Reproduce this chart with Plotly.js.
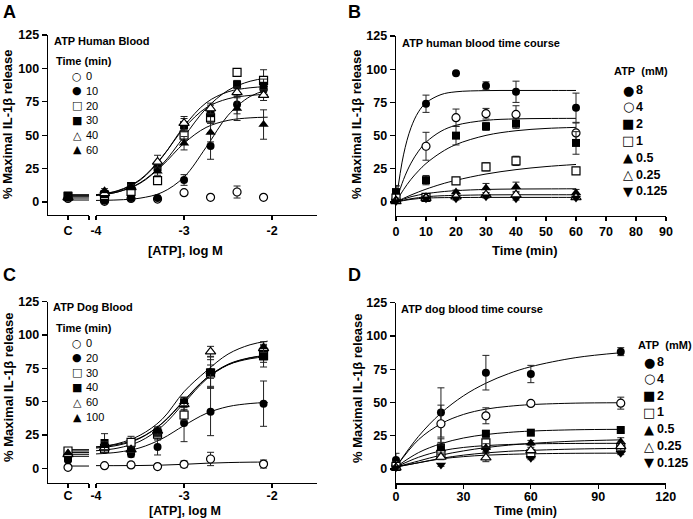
<!DOCTYPE html>
<html><head><meta charset="utf-8">
<script src="https://cdn.plot.ly/plotly-3.0.1.min.js"></script>
<style>html,body{margin:0;padding:0;background:#fff}#chart{width:693px;height:519px}</style>
</head><body><div id="chart"></div>
<script>
// ================= DATA =================
// ---- Panel A: ATP Human Blood, concentration-response ----
const logATP_A = [-3.903, -3.602, -3.301, -3.0, -2.699, -2.398, -2.097];
const seriesA = ['0', '10', '20', '30', '40', '60'];
const ctrlA = [2.7, 3.2, 4.2, 4.8, 3.5, 3.8];
const valsA = [
  [0.5, 2.7, 2.2, 7, 3.5, 7.5, 3.5],
  [1, 3, 3, 16.5, 42, 73, 84],
  [5, 8, 16, 50, 63, 97, 91],
  [6, 12, 26, 57.5, 66.5, 88, 87],
  [6.5, 11, 30, 59, 70, 82, 80],
  [8.5, 11.5, 23, 44, 52, 70, 58]
];
const errA = [
  [1, 1, 1, 1.2, 1, 4.5, 1],
  [1, 1, 1, 4, 10, 7, 5],
  [1, 1.5, 2, 4, 4, 2, 8],
  [1, 1.5, 3, 5, 6, 3, 5],
  [1, 1.5, 5, 5, 4, 4, 4],
  [1.5, 1.5, 3, 5, 7, 9, 11]
];
// fitted curves, x grid in log M
const fitXA = [-4, -3.75, -3.5, -3.25, -3, -2.75, -2.5, -2.25, -2.05];
const fitA = {
  '10': [1.2, 1.6, 2.9, 7.2, 18.7, 40.9, 64.9, 79, 83.8],
  '20': [4.8, 7.6, 14.4, 28.1, 49, 69.9, 83.6, 90.4, 92.8],
  '30': [5.4, 8.3, 16.3, 33.4, 56.7, 74.2, 82.5, 85.5, 86.4],
  '40': [5.5, 8.6, 16.8, 33.8, 55.3, 70.5, 77.3, 79.8, 80.6],
  '60': [5.2, 7.6, 14, 27.2, 44, 55.8, 61.1, 63, 63.5]
};
const ctrlLinesA = [1.5, 3, 4, 5, 5.5];

// ---- Panel B: ATP human blood time course ----
const timeB = [0, 10, 20, 30, 40, 60];
const seriesB = ['8', '4', '2', '1', '0.5', '0.25', '0.125'];
const valsB = [
  [7, 74, 97, 87.5, 83, 71],
  [2, 42, 63.5, 66.5, 66, 52],
  [7.5, 16.5, 50, 57, 59, 44.5],
  [3, 3.5, 16, 26.5, 31, 23.5],
  [2, 4, 7.5, 10.5, 11.5, 7],
  [0.5, 3, 4, 5.5, 5.5, 3.5],
  [0.5, 2.5, 2.5, 4, 2.5, 3]
];
const errB = [
  [5, 6.5, 0, 3, 8, 11],
  [1, 10.5, 6.5, 4, 6.5, 7.5],
  [5, 3.5, 7, 3, 3.5, 8.5],
  [1, 1, 2.5, 3, 3.5, 0],
  [1, 1, 1.5, 3.5, 3.5, 2.5],
  [1, 1, 1, 1.5, 1.5, 1],
  [0.5, 0.5, 1, 1, 1, 1]
];
const fitTB = [0, 2.5, 5, 7.5, 10, 15, 20, 30, 40, 50, 60];
const fitB = [
  [0, 35.5, 56, 67.9, 74.7, 80.9, 83, 83.9, 84, 84, 84],
  [0, 16.9, 29.3, 38.3, 45, 53.3, 57.8, 61.5, 62.6, 62.9, 63],
  [0, 9.3, 17.1, 23.5, 29, 37.3, 43.3, 50.2, 53.7, 55.4, 56.2],
  [0, 2.8, 5.3, 7.6, 9.7, 13.4, 16.4, 21.1, 24.4, 26.7, 28.3],
  [0, 2.2, 4, 5.3, 6.3, 7.7, 8.6, 9.5, 9.8, 9.9, 10],
  [0, 1.4, 2.5, 3.3, 4, 4.7, 5, 5.4, 5.5, 5.5, 5.5],
  [0, 1.1, 2, 2.6, 3, 3.3, 3.4, 3.5, 3.5, 3.5, 3.5]
];

// ---- Panel C: ATP Dog Blood, concentration-response ----
const logATP_C = [-3.903, -3.602, -3.301, -3.0, -2.699, -2.097];
const seriesC = ['0', '20', '30', '40', '60', '100'];
const ctrlC = [0.7, 6, 13, 8, 10.5, 11.5];
const valsC = [
  [2, 2.5, 1.3, 3, 7, 3.2],
  [14, 10.5, 16, 34, 42.5, 48.5],
  [15, 19.5, 25.7, 40, 71.5, 84.5],
  [19, 13, 27, 49.5, 72, 84],
  [15.5, 14, 28, 48, 87.5, 90],
  [17, 14, 28, 50, 72.5, 91]
];
const errC = [
  [0.5, 2, 0.5, 2.5, 5, 3],
  [2, 2, 6, 14, 18, 17],
  [2, 4.5, 4.5, 4, 10, 5],
  [7, 2, 3, 4, 12, 8],
  [2, 2, 3, 5, 4, 3],
  [3, 2, 3, 3, 5, 4]
];
const fitXC = [-4, -3.75, -3.5, -3.25, -3, -2.75, -2.5, -2.25, -2.05];
const fitC = [
  [2, 2, 2.1, 2.4, 3, 3.8, 4.3, 4.6, 4.7],
  [10.8, 12.1, 15.4, 22.2, 32.1, 41.1, 46.3, 48.6, 49.4],
  [13.2, 15.2, 20.3, 31.4, 49, 66.6, 77.7, 82.8, 84.6],
  [15.2, 17.3, 22.5, 33.8, 51, 67.5, 77.6, 82.2, 83.7],
  [15.9, 18.6, 24.8, 36.7, 57.5, 72.8, 85.7, 92.7, 95.4],
  [16.1, 18, 22.9, 33.6, 50.5, 67.4, 78.1, 83, 84.8]
];
const ctrlLinesC = [1.7, 9, 10.5, 11.8, 13, 14];

// ---- Panel D: ATP dog blood time course ----
const timeD = [0, 20, 40, 60, 100];
const seriesD = ['8', '4', '2', '1', '0.5', '0.25', '0.125'];
const valsD = [
  [6.8, 42.5, 72.4, 71.4, 88.2],
  [3, 34, 40, 49.3, 49.5],
  [2, 16.2, 26.5, 27.3, 29.3],
  [2, 11, 19.6, 11.4, 16],
  [1, 15, 16, 19.5, 20.5],
  [1, 9, 8.5, 14, 17],
  [1, 3, 14.3, 8, 11.8]
];
const errD = [
  [5, 18.5, 13, 6.5, 3],
  [1, 14, 6, 1.5, 4.5],
  [1, 6.5, 2.5, 1.5, 1.5],
  [1, 2, 3, 1.5, 2],
  [1, 3, 3, 2, 3],
  [1, 2, 3, 2, 3],
  [1, 1, 2, 1, 1]
];
const fitTD = [0, 10, 20, 30, 40, 50, 60, 80, 100];
const fitD = [
  [1.5, 24.5, 42, 55, 64.5, 71.6, 76.9, 83.7, 87.4],
  [1.5, 22, 34, 41, 45, 47.1, 48.4, 49.5, 49.8],
  [1.5, 12.3, 19, 23.3, 25.9, 27.5, 28.5, 29.5, 29.8],
  [1.5, 8.8, 13.6, 16.2, 17.6, 18.4, 18.9, 19.2, 19.3],
  [1.5, 6, 10.4, 13.6, 16.1, 17.9, 19.2, 21, 21.9],
  [1.5, 4.7, 8, 10.4, 12.1, 13.3, 14, 15, 15.5],
  [1.5, 4.7, 7.6, 9.3, 10.4, 11, 11.4, 11.8, 11.9]
];

// control ("C") segment of the broken x axis
const ctrlX = [0];
const ctrlSegX = [0, 1];

// ================= STYLE =================
const symDose = ['circle-open', 'circle', 'square-open', 'square', 'triangle-up-open', 'triangle-up'];
const symTime = ['circle', 'circle-open', 'square', 'square-open', 'triangle-up', 'triangle-up-open', 'triangle-down'];
const glyph = {'circle-open':'○','circle':'●','square-open':'□','square':'■','triangle-up-open':'△','triangle-up':'▲','triangle-down':'▼'};
const FONT = 'Liberation Sans, Arial, Helvetica, sans-serif';
const W = 693, H = 519;
const px = v => v / W;
const py = v => 1 - v / H;

function marker(sym) {
  const open = sym.endsWith('-open');
  const base = sym.replace('-open', '');
  const sz = base.startsWith('triangle') ? 9 : 8;
  return {symbol: base, size: sz, color: open ? 'white' : 'black',
          line: {color: 'black', width: open ? 1.2 : 0}};
}
function errbar(arr) {
  return {type: 'data', array: arr, visible: true, color: '#222', thickness: 1, width: 3.5};
}
const traces = [];
function curve(x, y, xa, ya) {
  traces.push({x: x, y: y, xaxis: xa, yaxis: ya, mode: 'lines', type: 'scatter',
    line: {color: 'black', width: 1, shape: 'spline', smoothing: 1}, hoverinfo: 'skip', showlegend: false});
}
function pts(x, y, e, sym, xa, ya, name) {
  traces.push({x: x, y: y, xaxis: xa, yaxis: ya, mode: 'markers', type: 'scatter', name: name,
    marker: marker(sym), error_y: e ? errbar(e) : undefined, cliponaxis: false, showlegend: false});
}

// Panel A
ctrlLinesA.forEach(v => curve(ctrlSegX, ctrlSegX.map(() => v), 'x', 'y'));
Object.keys(fitA).forEach(k => curve(fitXA, fitA[k], 'x2', 'y'));
seriesA.forEach((s, i) => {
  pts(logATP_A, valsA[i], errA[i], symDose[i], 'x2', 'y', s + ' min');
  pts(ctrlX, [ctrlA[i]], null, symDose[i], 'x', 'y', s + ' min');
});
// Panel B
fitB.forEach(f => curve(fitTB, f, 'x3', 'y2'));
seriesB.forEach((s, i) => pts(timeB, valsB[i], errB[i], symTime[i], 'x3', 'y2', s + ' mM'));
// Panel C
ctrlLinesC.forEach(v => curve(ctrlSegX, ctrlSegX.map(() => v), 'x4', 'y3'));
fitC.forEach(f => curve(fitXC, f, 'x5', 'y3'));
seriesC.forEach((s, i) => {
  pts(logATP_C, valsC[i], errC[i], symDose[i], 'x5', 'y3', s + ' min');
  pts(ctrlX, [ctrlC[i]], null, symDose[i], 'x4', 'y3', s + ' min');
});
// Panel D
fitD.forEach(f => curve(fitTD, f, 'x6', 'y4'));
seriesD.forEach((s, i) => pts(timeD, valsD[i], errD[i], symTime[i], 'x6', 'y4', s + ' mM'));

// ================= LAYOUT =================
const axBase = {showline: true, linecolor: 'black', linewidth: 1.3, ticks: 'outside', ticklen: 5,
  tickwidth: 1.3, tickcolor: 'black', showgrid: false, zeroline: false, fixedrange: true,
  tickfont: {family: FONT, size: 12.5, color: 'black', weight: 'bold'}};
const yTicks = [0, 25, 50, 75, 100, 125];
function ax(o) { return Object.assign({}, axBase, o); }
const lowX = {ticklen: 4, ticklabelstandoff: -3};

const layout = {
  width: W, height: H, margin: {l: 0, r: 0, t: 0, b: 0},
  paper_bgcolor: 'white', plot_bgcolor: 'rgba(0,0,0,0)', showlegend: false,
  xaxis:  ax({domain: [px(48), px(89)], range: [-0.952, 1], tickvals: [0, 1], ticktext: ['C', ''], anchor: 'y', ticklen: 4}),
  xaxis2: ax({domain: [px(96), px(317)], range: [-4, -1.49], tickvals: [-4, -3, -2], ticktext: ['-4', '-3', '-2'], anchor: 'y', ticklen: 4}),
  yaxis:  ax({domain: [py(215), py(35)], range: [-9.7, 125], tickvals: yTicks, anchor: 'x'}),
  xaxis3: ax({domain: [px(396), px(666)], range: [0, 90], tickvals: [0,10,20,30,40,50,60,70,80,90], anchor: 'y2', ticklen: 4}),
  yaxis2: ax({domain: [py(216), py(36)], range: [-10.5, 125], tickvals: yTicks, anchor: 'x3'}),
  xaxis4: ax(Object.assign({domain: [px(48), px(89)], range: [-0.952, 1], tickvals: [0, 1], ticktext: ['C', ''], anchor: 'y3'}, lowX)),
  xaxis5: ax(Object.assign({domain: [px(96), px(317)], range: [-4, -1.49], tickvals: [-4, -3, -2], ticktext: ['-4', '-3', '-2'], anchor: 'y3'}, lowX)),
  yaxis3: ax({domain: [py(482.7), py(301.7)], range: [-10.8, 125], tickvals: yTicks, anchor: 'x4'}),
  xaxis6: ax(Object.assign({domain: [px(396), px(665.7)], range: [0, 120], tickvals: [0, 30, 60, 90, 120], anchor: 'y4'}, lowX)),
  yaxis4: ax({domain: [py(483.3), py(302.7)], range: [-10.75, 125], tickvals: yTicks, anchor: 'x6'}),
  annotations: []
};

const ann = layout.annotations;
function txt(t, x, y, size, bold, opts) {
  ann.push(Object.assign({text: t, x: px(x), y: py(y), xref: 'paper', yref: 'paper', showarrow: false,
    xanchor: 'left', yanchor: 'middle',
    font: {family: FONT, size: size, color: 'black', weight: bold ? 'bold' : 'normal'}}, opts || {}));
}
// panel letters
txt('A', 1, 12, 18, true); txt('B', 346, 12, 18, true);
txt('C', 1, 275, 18, true); txt('D', 346, 275, 18, true);
// axis titles
const yTitle = '% Maximal IL-1β release';
txt(yTitle, 8, 124, 13, true, {textangle: -90, xanchor: 'center'});
txt(yTitle, 357, 124, 13, true, {textangle: -90, xanchor: 'center'});
txt(yTitle, 8, 387, 13, true, {textangle: -90, xanchor: 'center'});
txt(yTitle, 357, 388, 13, true, {textangle: -90, xanchor: 'center'});
txt('[ATP], log M', 185, 251, 13, true, {xanchor: 'center'});
txt('Time (min)', 525, 251, 13, true, {xanchor: 'center'});
txt('[ATP], log M', 185, 519, 12.5, true, {xanchor: 'center', yanchor: 'bottom', borderpad: 0});
txt('Time (min)', 525, 519, 12.5, true, {xanchor: 'center', yanchor: 'bottom', borderpad: 0});
// in-plot titles
txt('ATP Human Blood', 52, 41, 11, true);
txt('ATP human blood time course', 400, 43, 11, true);
txt('ATP Dog Blood', 51, 307, 11, true);
txt('ATP dog blood time course', 399, 309, 11, true);
// legends
function legend(header, hx, hy, names, syms, gx, lx, y0, step, lsize, lbold, gsize) {
  txt(header, hx, hy, 11, true);
  names.forEach((n, i) => {
    const y = y0 + i * step;
    ann.push({text: glyph[syms[i]], x: px(gx), y: py(y), xref: 'paper', yref: 'paper', showarrow: false,
      xanchor: 'center', yanchor: 'middle', font: {family: 'DejaVu Sans', size: gsize, color: 'black'}});
    txt(n, lx, y, lsize, lbold);
  });
}
legend('Time (min)', 54, 61, seriesA, symDose, 77, 84, 76, 14.8, 11, false, 11);
legend('Time (min)', 54, 328, seriesC, symDose, 77, 84, 343, 14.8, 11, false, 11);
legend('ATP&nbsp;&nbsp;(mM)', 612, 71, seriesB, symTime, 628, 634, 90, 16.9, 12.5, true, 13);
legend('ATP&nbsp;&nbsp;(mM)', 636, 345, seriesD, symTime, 649, 655, 362, 16.8, 12.5, true, 13);

Plotly.newPlot('chart', traces, layout, {staticPlot: true, displayModeBar: false});
</script>
</body></html>
